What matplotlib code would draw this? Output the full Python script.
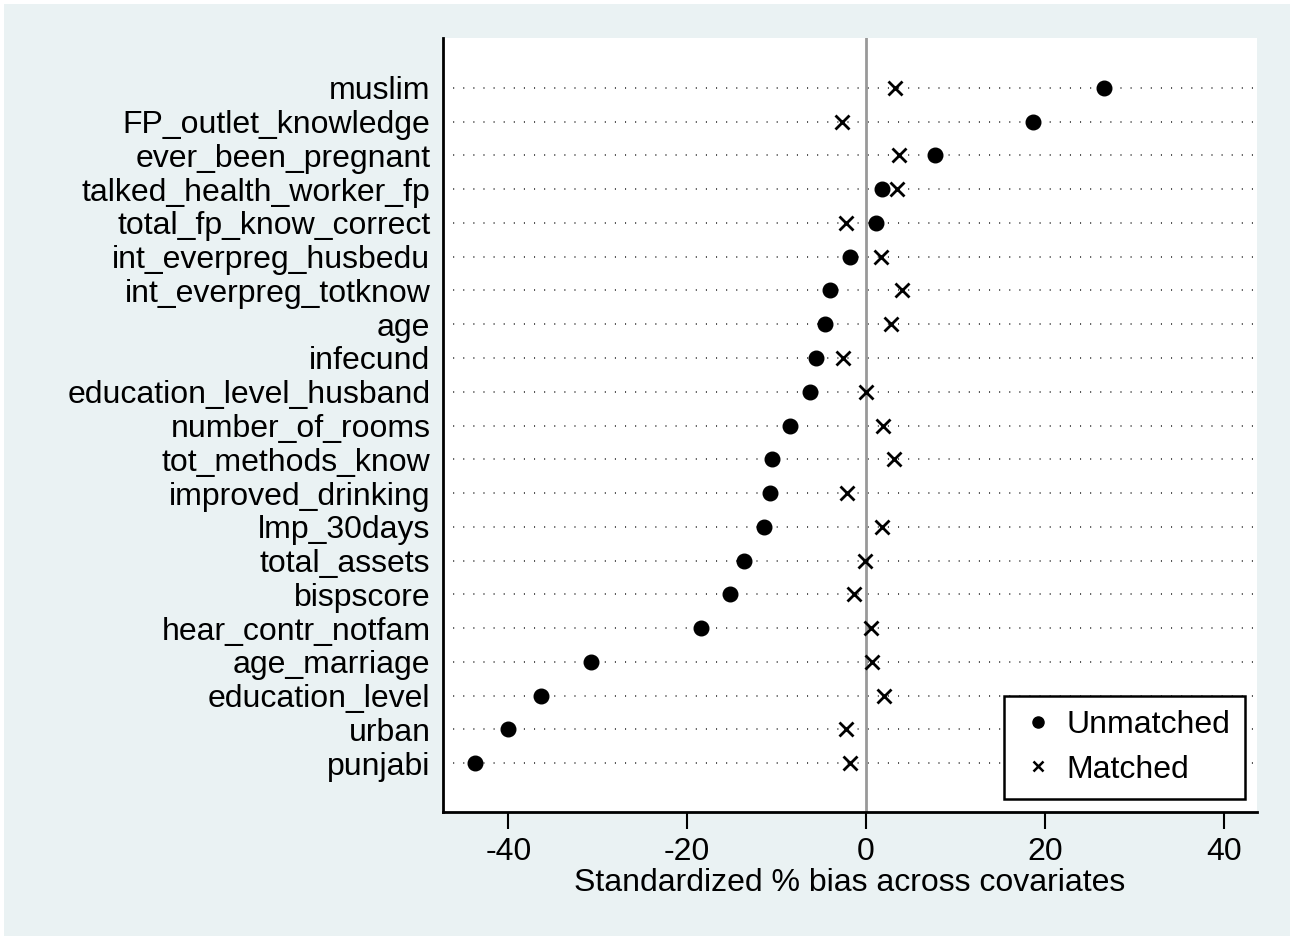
import matplotlib
matplotlib.use("Agg")
import matplotlib.pyplot as plt
from matplotlib.lines import Line2D
from matplotlib.patches import Rectangle

plt.rcParams['font.family'] = ['Liberation Sans', 'DejaVu Sans']

covariates = ["muslim", "FP_outlet_knowledge", "ever_been_pregnant", "talked_health_worker_fp",
              "total_fp_know_correct", "int_everpreg_husbedu", "int_everpreg_totknow", "age",
              "infecund", "education_level_husband", "number_of_rooms", "tot_methods_know",
              "improved_drinking", "lmp_30days", "total_assets", "bispscore", "hear_contr_notfam",
              "age_marriage", "education_level", "urban", "punjabi"]
unmatched = [26.6, 18.7, 7.7, 1.8, 1.1, -1.8, -4.0, -4.6, -5.6, -6.3, -8.5, -10.5,
             -10.7, -11.4, -13.6, -15.2, -18.5, -30.7, -36.4, -40.0, -43.7]
matched = [3.2, -2.7, 3.7, 3.5, -2.3, 1.7, 4.0, 2.8, -2.6, 0.0, 1.9, 3.1,
           -2.1, 1.8, -0.1, -1.3, 0.6, 0.7, 2.0, -2.3, -1.8]
xticks = [-40, -20, 0, 20, 40]

W, H = 1290, 936
fig = plt.figure(figsize=(W / 100, H / 100), dpi=100, facecolor='white')
fig.patches.append(Rectangle((4 / W, 0), 1 - 4 / W, 1 - 4 / H, transform=fig.transFigure,
                             facecolor='#EAF2F3', edgecolor='none', zorder=-10))

ax = fig.add_axes([443 / W, 1 - 812 / H, (1257 - 443) / W, (812 - 38) / H])
ax.set_facecolor('white')

fs = 23
n = len(covariates)
ypos = list(range(n))
for y in ypos:
    ax.plot([-47.3, 43.7], [y, y], linestyle=(0, (0.6, 5.0)), color='#444444', lw=1.3, zorder=1)

ax.axvline(0, color='#999999', lw=2, zorder=2)

ax.plot(unmatched, ypos, linestyle='none', marker='o', color='black', ms=10.5, zorder=3)
ax.plot(matched, ypos, linestyle='none', marker='x', color='black', ms=9.5, mew=2, zorder=3)

ax.set_xlim(-47.3, 43.7)
ax.set_ylim(n - 1 + 1.45, -1.48)
ax.set_yticks(ypos)
ax.set_yticklabels(covariates, fontsize=fs)
ax.tick_params(axis='y', length=0, pad=9)
ax.set_xticks(xticks)
ax.set_xticklabels([str(v) for v in xticks], fontsize=fs)
ax.tick_params(axis='x', length=12, width=1.5, direction='out', pad=6)

for s in ['top', 'right']:
    ax.spines[s].set_visible(False)
for s in ['left', 'bottom']:
    ax.spines[s].set_linewidth(2)
    ax.spines[s].set_color('black')

ax.set_xlabel('Standardized % bias across covariates', fontsize=fs, labelpad=1)

handles = [Line2D([], [], linestyle='none', marker='o', color='black', ms=8),
           Line2D([], [], linestyle='none', marker='x', color='black', ms=7, mew=1.8)]
leg = ax.legend(handles, ['Unmatched', 'Matched'], loc='lower right', fontsize=fs,
                frameon=True, fancybox=False, edgecolor='black', framealpha=1,
                bbox_to_anchor=((1245 - 443) / (1257 - 443), (812 - 799) / (812 - 38)),
                borderaxespad=0, handletextpad=0.3, handlelength=1.2, labelspacing=0.45,
                borderpad=0.45)
leg.get_frame().set_linewidth(1.8)

fig.savefig('out.png', dpi=100, facecolor=fig.get_facecolor())
